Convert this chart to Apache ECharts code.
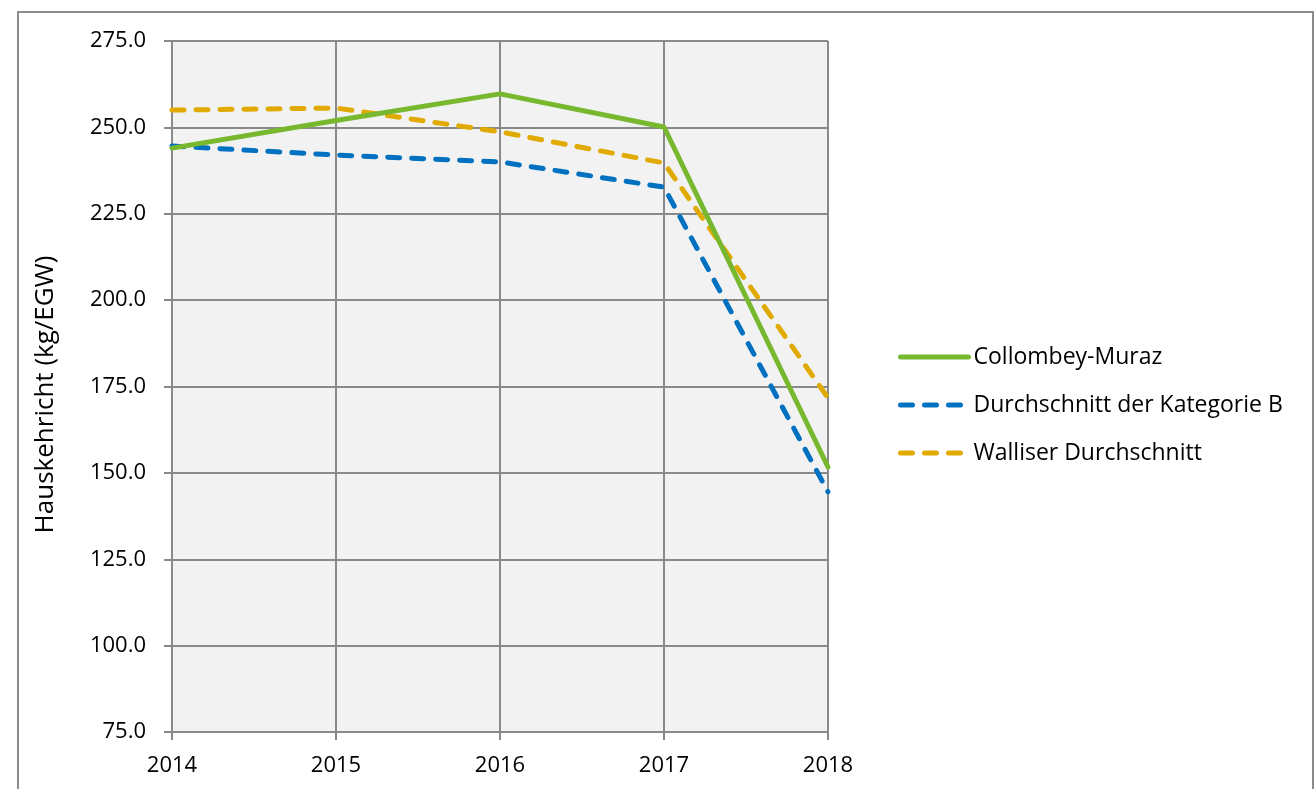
<!DOCTYPE html>
<html>
<head>
<meta charset="utf-8">
<script src="https://cdn.jsdelivr.net/npm/echarts@6/dist/echarts.min.js"></script>
<style>
html,body{margin:0;padding:0;background:#fff;}
#chart{width:1316px;height:789px;}
</style>
</head>
<body>
<div id="chart"></div>
<script>
const years = ['2014', '2015', '2016', '2017', '2018'];
const collombeyMuraz = [244.0, 252.0, 259.7, 250.1, 151.7];
const kategorieB = [244.6, 242.0, 240.0, 232.7, 144.5];
const walliser = [255.0, 255.6, 248.7, 239.7, 171.7];
const seriesNames = ['Collombey-Muraz', 'Durchschnitt der Kategorie B', 'Walliser Durchschnitt'];
const yAxisName = 'Hauskehricht (kg/EGW)';

const FONT = 'Open Sans';
const chart = echarts.init(document.getElementById('chart'), null, {renderer: 'canvas'});
const dash = [12, 12];
chart.setOption({
  backgroundColor: '#ffffff',
  animation: false,
  textStyle: {fontFamily: FONT},
  graphic: [{
    type: 'rect',
    shape: {x: 18, y: 12, width: 1295, height: 800},
    style: {fill: 'none', stroke: '#8c8c8c', lineWidth: 2},
    z: 0
  }],
  grid: {left: 172, right: 488, top: 41, bottom: 57, show: true, backgroundColor: '#f2f2f2', borderWidth: 0},
  legend: {
    orient: 'vertical',
    left: 898,
    top: 345,
    padding: 0,
    itemWidth: 68,
    itemHeight: 14,
    itemGap: 24,
    itemStyle: {opacity: 0},
    lineStyle: {width: 5, cap: 'round'},
    textStyle: {fontFamily: FONT, fontSize: 23, lineHeight: 24, color: '#000', padding: [0, 0, 0, 0]},
    data: seriesNames
  },
  xAxis: {
    type: 'category',
    data: years,
    boundaryGap: false,
    axisLine: {lineStyle: {color: '#898989', width: 2}},
    axisTick: {show: true, length: 8, lineStyle: {color: '#898989', width: 2}},
    axisLabel: {color: '#000', fontSize: 22, fontFamily: FONT, margin: 23},
    splitLine: {show: true, lineStyle: {color: '#898989', width: 2}}
  },
  yAxis: {
    type: 'value',
    min: 75,
    max: 275,
    interval: 25,
    name: yAxisName,
    nameLocation: 'middle',
    nameGap: 113,
    nameTextStyle: {color: '#000', fontSize: 26, fontFamily: FONT, padding: [0, 16, 0, 0]},
    axisLine: {show: true, lineStyle: {color: '#898989', width: 2}},
    axisTick: {show: true, length: 8, lineStyle: {color: '#898989', width: 2}},
    axisLabel: {color: '#000', fontSize: 22, fontFamily: FONT, margin: 26, formatter: v => v.toFixed(1)},
    splitLine: {show: true, lineStyle: {color: '#898989', width: 2}}
  },
  series: [
    {name: seriesNames[0], type: 'line', data: collombeyMuraz, symbol: 'none', color: '#77b82f',
     lineStyle: {width: 5, color: '#77b82f', cap: 'round'}, z: 4},
    {name: seriesNames[1], type: 'line', data: kategorieB, symbol: 'none', color: '#0070c0',
     lineStyle: {width: 5, color: '#0070c0', type: dash, cap: 'round'}, z: 3},
    {name: seriesNames[2], type: 'line', data: walliser, symbol: 'none', color: '#e0aa00',
     lineStyle: {width: 5, color: '#e0aa00', type: dash, cap: 'round'}, z: 2}
  ]
});
</script>
</body>
</html>
